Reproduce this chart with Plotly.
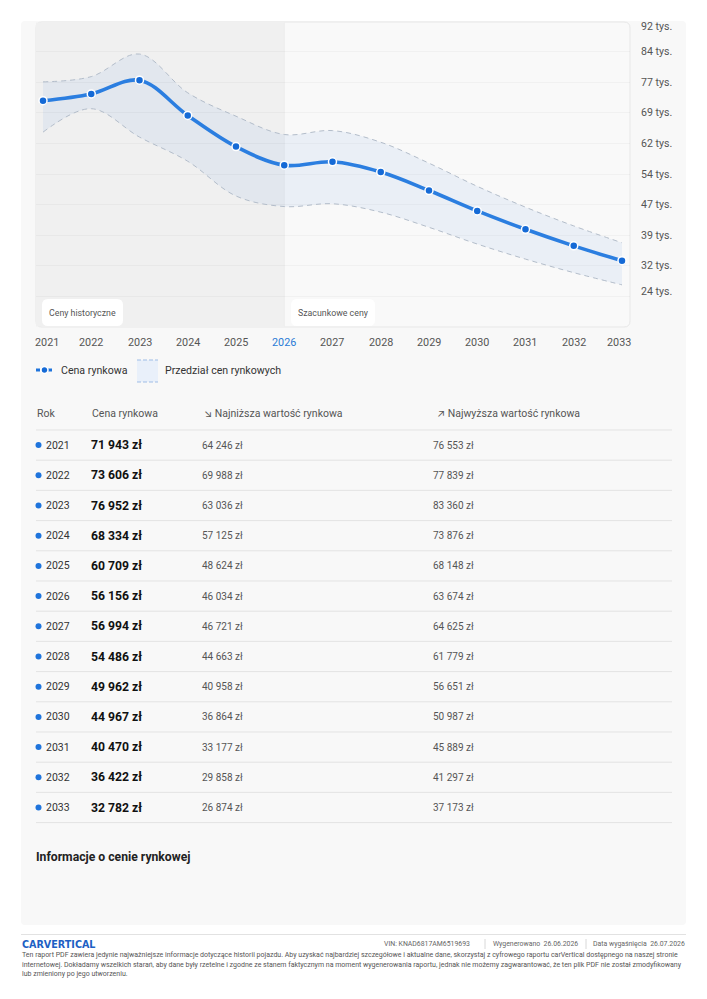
import plotly.graph_objects as go

W, H = 707, 999

# ---------------- data ----------------
years = [2021, 2022, 2023, 2024, 2025, 2026, 2027, 2028, 2029, 2030, 2031, 2032, 2033]
market_price = [71943, 73606, 76952, 68334, 60709, 56156, 56994, 54486, 49962, 44967, 40470, 36422, 32782]
lowest_value = [64246, 69988, 63036, 57125, 48624, 46034, 46721, 44663, 40958, 36864, 33177, 29858, 26874]
highest_value = [76553, 77839, 83360, 73876, 68148, 63674, 64625, 61779, 56651, 50987, 45889, 41297, 37173]
current_year = 2026

y_tick_vals = [91500, 84000, 76500, 69000, 61500, 54000, 46500, 39000, 31500, 24000]
y_tick_text = ["92 tys.", "84 tys.", "77 tys.", "69 tys.", "62 tys.", "54 tys.", "47 tys.", "39 tys.", "32 tys.", "24 tys."]

table_headers = ["Rok", "Cena rynkowa", "↘ Najniższa wartość rynkowa", "↗ Najwyższa wartość rynkowa"]
period_labels = ["Ceny historyczne", "Szacunkowe ceny"]
legend_labels = ["Cena rynkowa", "Przedział cen rynkowych"]
section_title = "Informacje o cenie rynkowej"
footer_brand = "CARVERTICAL"
footer_meta = ["VIN: KNAD6817AM6519693", "Wygenerowano  26.06.2026", "Data wygaśnięcia  26.07.2026"]
footer_disclaimer = [
    "Ten raport PDF zawiera jedynie najważniejsze informacje dotyczące historii pojazdu. Aby uzyskać najbardziej szczegółowe i aktualne dane, skorzystaj z cyfrowego raportu carVertical dostępnego na naszej stronie",
    "internetowej. Dokładamy wszelkich starań, aby dane były rzetelne i zgodne ze stanem faktycznym na moment wygenerowania raportu, jednak nie możemy zagwarantować, że ten plik PDF nie został zmodyfikowany",
    "lub zmieniony po jego utworzeniu.",
]

FONT = "Roboto, Inter, 'Noto Sans', sans-serif"
BLUE = "#1f74dc"
LINE_BLUE = "#2b7ee0"
Y_RANGE = [16559, 91204]
X_RANGE = [2020.855, 2033.166]


def fmt_pln(v):
    s = f"{v:,}".replace(",", " ")
    return s + " zł"


def px(x):
    return x / W


def py(y):
    return 1 - y / H


def rrect(x0, y0, x1, y1, r):
    rx, ry = r / W, r / H
    X0, X1 = px(x0), px(x1)
    Y0, Y1 = py(y0), py(y1)  # Y0 top (bigger), Y1 bottom
    return (f"M {X0+rx},{Y0} L {X1-rx},{Y0} Q {X1},{Y0} {X1},{Y0-ry} "
            f"L {X1},{Y1+ry} Q {X1},{Y1} {X1-rx},{Y1} L {X0+rx},{Y1} "
            f"Q {X0},{Y1} {X0},{Y1+ry} L {X0},{Y0-ry} Q {X0},{Y0} {X0+rx},{Y0} Z")


fig = go.Figure()

band_line = dict(color="#b3bdca", width=1, dash="5px,4px", shape="spline", smoothing=1.0)
fig.add_trace(go.Scatter(x=years, y=lowest_value, mode="lines", line=band_line,
                         hoverinfo="skip", showlegend=False))
fig.add_trace(go.Scatter(x=years, y=highest_value, mode="lines", fill="tonexty",
                         fillcolor="rgba(50,120,220,0.075)", line=band_line,
                         hoverinfo="skip", showlegend=False))
fig.add_trace(go.Scatter(
    x=years, y=market_price, mode="lines+markers",
    line=dict(color=LINE_BLUE, width=3.6, shape="spline", smoothing=1.0),
    marker=dict(size=8, color="#156ad6", line=dict(color="white", width=1.5)),
    hoverinfo="skip", showlegend=False))

shapes = []
ann = []

# card background
shapes.append(dict(type="path", path=rrect(21, 21, 686, 925, 4), xref="paper", yref="paper",
                   fillcolor="#f8f8f8", line=dict(width=0), layer="below"))
# chart box
shapes.append(dict(type="path", path=rrect(36, 22, 630, 327, 6), xref="paper", yref="paper",
                   fillcolor="#f9f9f9", line=dict(color="#e7e7e7", width=1), layer="below"))
# historic shading
shapes.append(dict(type="rect", xref="x", yref="paper", x0=X_RANGE[0], x1=current_year,
                   y0=py(326.5), y1=py(22.5), fillcolor="#f0f0f0", line=dict(width=0), layer="below"))
shapes.append(dict(type="line", xref="x", yref="paper", x0=current_year, x1=current_year,
                   y0=py(326.5), y1=py(22.5), line=dict(color="#ececec", width=1), layer="below"))

# period label boxes
for (x0, x1), lab in zip([(42, 123), (291, 375)], period_labels):
    shapes.append(dict(type="path", path=rrect(x0, 299, x1, 326, 6), xref="paper", yref="paper",
                       fillcolor="#ffffff", line=dict(width=0), layer="above"))
    ann.append(dict(text=lab, x=px((x0 + x1) / 2), y=py(312.5), xref="paper", yref="paper",
                    showarrow=False, font=dict(size=8.8, color="#555555", family=FONT),
                    xanchor="center", yanchor="middle"))

# x tick labels (years), end labels kept inside the chart box
for i, yr in enumerate(years):
    xs = 0
    if i == 0:
        xs = 4
    elif i == len(years) - 1:
        xs = -3
    col = "#2a7bd6" if yr == current_year else "#555555"
    ann.append(dict(text=str(yr), x=yr, y=py(343), xref="x", yref="paper", xshift=xs,
                    showarrow=False, font=dict(size=10.8, color=col, family=FONT),
                    xanchor="center", yanchor="middle"))

# y tick labels (right side)
for v, t in zip(y_tick_vals, y_tick_text):
    vv = min(max(v, Y_RANGE[0]), Y_RANGE[1])
    ys = 0
    if v > Y_RANGE[1]:
        ys = -5
    if v < 25000:
        ys = 5.5
    ann.append(dict(text=t, x=px(639), y=vv, xref="paper", yref="y", yshift=ys,
                    showarrow=False, font=dict(size=10.6, color="#555555", family=FONT),
                    xanchor="left", yanchor="middle"))

# legend
shapes.append(dict(type="line", xref="paper", yref="paper", x0=px(36), x1=px(53), y0=py(370), y1=py(370),
                   line=dict(color=BLUE, width=3, dash="4px,2px")))
shapes.append(dict(type="circle", xref="paper", yref="paper", x0=px(41), x1=px(48), y0=py(366.5), y1=py(373.5),
                   fillcolor="#156ad6", line=dict(color="white", width=1.5)))
ann.append(dict(text=legend_labels[0], x=px(59), y=py(370), xref="paper", yref="paper", showarrow=False,
                font=dict(size=10.6, color="#333333", family=FONT), xanchor="left", yanchor="middle"))
shapes.append(dict(type="rect", xref="paper", yref="paper", x0=px(137), x1=px(158), y0=py(382), y1=py(360),
                   fillcolor="#e9f0fa", line=dict(width=0)))
for yy in (360, 382):
    shapes.append(dict(type="line", xref="paper", yref="paper", x0=px(137), x1=px(158), y0=py(yy), y1=py(yy),
                       line=dict(color="#9fbde6", width=1, dash="4px,2px")))
ann.append(dict(text=legend_labels[1], x=px(163), y=py(370), xref="paper", yref="paper", showarrow=False,
                font=dict(size=10.6, color="#333333", family=FONT), xanchor="left", yanchor="middle"))

# table
col_x = [35, 90, 202, 435]
for cx, h in zip(col_x, table_headers):
    ann.append(dict(text=h, x=px(cx), y=py(413), xref="paper", yref="paper", showarrow=False,
                    font=dict(size=10.5, color="#555555", family=FONT), xanchor="left", yanchor="middle"))
row_h = 30.2
sep0 = 430
for i in range(len(years) + 1):
    yy = sep0 + i * row_h
    shapes.append(dict(type="line", xref="paper", yref="paper", x0=px(36), x1=px(672), y0=py(yy), y1=py(yy),
                       line=dict(color="#e3e3e3", width=1)))
for i, yr in enumerate(years):
    yc = sep0 + row_h * (i + 0.5)
    shapes.append(dict(type="circle", xref="paper", yref="paper", x0=px(35.5), x1=px(41.5),
                       y0=py(yc + 3), y1=py(yc - 3), fillcolor=BLUE, line=dict(width=0)))
    ann.append(dict(text=str(yr), x=px(44), y=py(yc), xref="paper", yref="paper", showarrow=False,
                    font=dict(size=10.5, color="#333333", family=FONT), xanchor="left", yanchor="middle"))
    ann.append(dict(text="<b>" + fmt_pln(market_price[i]) + "</b>", x=px(89), y=py(yc), xref="paper", yref="paper",
                    showarrow=False, font=dict(size=12.2, color="#111111", family=FONT),
                    xanchor="left", yanchor="middle"))
    ann.append(dict(text=fmt_pln(lowest_value[i]), x=px(200), y=py(yc), xref="paper", yref="paper",
                    showarrow=False, font=dict(size=10, color="#555555", family=FONT),
                    xanchor="left", yanchor="middle"))
    ann.append(dict(text=fmt_pln(highest_value[i]), x=px(431), y=py(yc), xref="paper", yref="paper",
                    showarrow=False, font=dict(size=10, color="#555555", family=FONT),
                    xanchor="left", yanchor="middle"))

# section title
ann.append(dict(text="<b>" + section_title + "</b>", x=px(34), y=py(857), xref="paper", yref="paper",
                showarrow=False, font=dict(size=12.2, color="#222222", family=FONT),
                xanchor="left", yanchor="middle"))

# footer
shapes.append(dict(type="line", xref="paper", yref="paper", x0=px(21), x1=px(686), y0=py(934.5), y1=py(934.5),
                   line=dict(color="#e2e2e2", width=1)))
ann.append(dict(text="<b>" + footer_brand + "</b>", x=px(20), y=py(944), xref="paper", yref="paper",
                showarrow=False, font=dict(size=9.6, color="#1d5fc4", family="'DejaVu Sans', sans-serif"),
                xanchor="left", yanchor="middle"))
ann.append(dict(text=footer_meta[2], x=px(687), y=py(944), xref="paper", yref="paper", showarrow=False,
                font=dict(size=6.9, color="#666666", family=FONT), xanchor="right", yanchor="middle"))
ann.append(dict(text=footer_meta[1], x=px(491), y=py(944), xref="paper", yref="paper", showarrow=False,
                font=dict(size=6.9, color="#666666", family=FONT), xanchor="left", yanchor="middle"))
ann.append(dict(text=footer_meta[0], x=px(382), y=py(944), xref="paper", yref="paper", showarrow=False,
                font=dict(size=6.9, color="#666666", family=FONT), xanchor="left", yanchor="middle"))
for xx in (485, 586):
    shapes.append(dict(type="line", xref="paper", yref="paper", x0=px(xx), x1=px(xx), y0=py(939), y1=py(949),
                       line=dict(color="#d8d8d8", width=1)))
for k, line in enumerate(footer_disclaimer):
    ann.append(dict(text=line, x=px(20), y=py(955 + 9.6 * k), xref="paper", yref="paper", showarrow=False,
                    font=dict(size=7.0, color="#555555", family=FONT), xanchor="left", yanchor="middle"))

fig.update_layout(
    width=W, height=H, margin=dict(l=0, r=0, t=0, b=0, pad=0),
    paper_bgcolor="white", plot_bgcolor="rgba(0,0,0,0)",
    font=dict(family=FONT),
    showlegend=False,
    shapes=shapes, annotations=ann,
    xaxis=dict(domain=[px(36), px(630)], range=X_RANGE, tickvals=years, showticklabels=False,
               showgrid=False, zeroline=False, showline=False, ticks="", fixedrange=True),
    yaxis=dict(domain=[py(327), py(22)], range=Y_RANGE, tickvals=y_tick_vals, showticklabels=False,
               showgrid=True, gridcolor="rgba(0,0,0,0.03)", gridwidth=1, zeroline=False, showline=False,
               ticks="", fixedrange=True),
)

fig.write_html("out.html")
